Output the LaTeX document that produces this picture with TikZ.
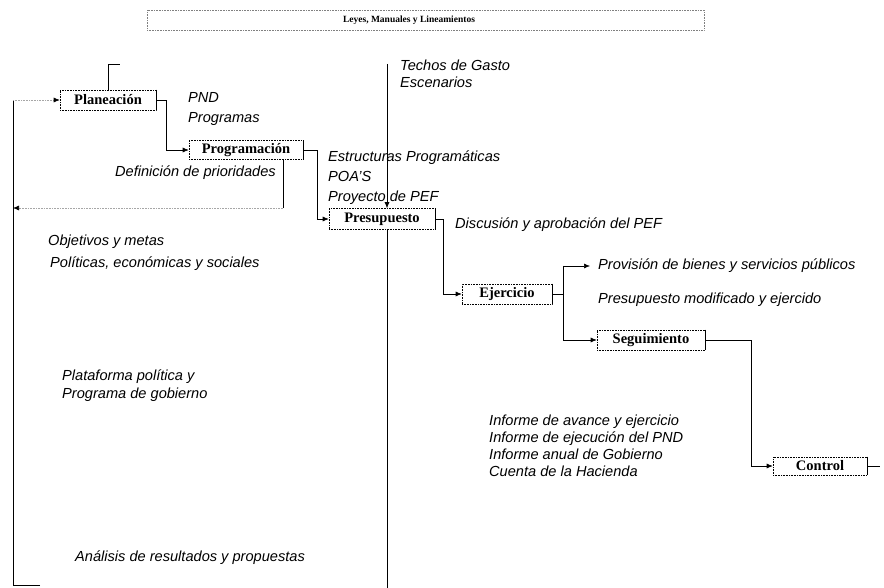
\documentclass[tikz,border=0pt]{standalone}
\usepackage{fontspec}
\setmainfont{Liberation Serif}
\setsansfont{Liberation Sans}
\usetikzlibrary{arrows.meta}

\begin{document}
\begin{tikzpicture}[x=1pt, y=-1pt,
    etapa/.style={draw, densely dotted, line width=0.6pt, minimum height=20pt, inner sep=1pt, font=\bfseries\fontsize{14.5}{16}\selectfont},
    texto/.style={font=\sffamily\itshape\fontsize{14.6}{17}\selectfont, align=left, anchor=base west, inner sep=0pt},
    linea/.style={line width=0.6pt},
    tenue/.style={line width=0.6pt, gray!70, densely dotted},
    flecha/.style={-{Latex[length=6pt,width=5pt,color=black]}}
]
\useasboundingbox (0,0) rectangle (884,588);

% Marco normativo
\node[draw, densely dotted, gray, line width=0.6pt, minimum width=557pt, minimum height=20pt] (leyes) at (425.5,20) {};
\node[font=\bfseries\fontsize{9.5}{11}\selectfont] (leyestxt) at (409,20) {Leyes, Manuales y Lineamientos};

% Etapas del ciclo
\node[etapa, minimum width=96pt] (plan) at (108,100) {Planeación};
\node[etapa, minimum width=114pt, minimum height=19pt] (prog) at (246,150) {Programación};
\node[etapa, minimum width=106pt, minimum height=21pt] (pres) at (382,219) {Presupuesto};
\node[etapa, minimum width=90pt] (ejer) at (507,294) {Ejercicio};
\node[etapa, minimum width=108pt] (segu) at (651,340) {Seguimiento};
\node[etapa, minimum width=94pt, minimum height=18pt] (cont) at (820,466) {Control};
\foreach \n in {plan,prog,pres,ejer,segu,cont}
    \draw[linea] (\n.north east) -- (\n.south east);

% Textos
\node[texto] (techos) at (400,88) {Techos de Gasto\\Escenarios};
\node[texto] (pnd) at (188,123) {PND\\[3pt]Programas};
\node[texto, anchor=base east] (prior) at (276,177) {Definición de prioridades};
\node[texto] (estruc) at (328,202) {Estructuras Programáticas\\[3pt]POA'S\\[3pt]Proyecto de PEF};
\node[texto] (discu) at (455,229) {Discusión y aprobación del PEF};
\node[texto] (objet) at (48,268) {Objetivos y metas\\[5pt]\hspace{2pt}Políticas, económicas y sociales};
\node[texto] (prov) at (598,270) {Provisión de bienes y servicios públicos};
\node[texto] (modif) at (598,304) {Presupuesto modificado y ejercido};
\node[texto] (plata) at (62,398) {Plataforma política y\\[1pt]Programa de gobierno};
\node[texto] (infor) at (489,476) {Informe de avance y ejercicio\\Informe de ejecución del PND\\Informe anual de Gobierno\\Cuenta de la Hacienda};
\node[texto] (anali) at (75,561) {Análisis de resultados y propuestas};

% Puntos de quiebre
\coordinate (izqA) at (13,100);
\coordinate (izqB) at (13,585);
\coordinate (izqC) at (40,585);
\coordinate (techoA) at (120,64);
\coordinate (techoB) at (387,64);
\coordinate (fondo) at (387,588);
\coordinate (pp) at (166,100);
\coordinate (pr) at (317,150);
\coordinate (def) at (283,208);
\coordinate (izqD) at (13,208);
\coordinate (pe) at (443,219);
\coordinate (ej) at (563,294);
\coordinate (ejA) at (563,266);
\coordinate (ejB) at (563,340);
\coordinate (sc) at (751,340);
\coordinate (fin) at (880,466);

% Conectores
\draw[linea] (izqC) -- (izqB) -- (izqA);
\draw[tenue, flecha] (izqA) -- (plan.west);
\draw[linea] (plan.north) |- (techoA);
\draw[linea, flecha] (techoB) -- (techoB |- pres.north);
\draw[linea] (techoB |- pres.south) -- (fondo);
\draw[linea, flecha] (plan.east) -- (pp) |- (prog.west);
\draw[linea, flecha] (prog.east) -- (pr) |- (pres.west);
\draw[linea] (def |- prog.south) -- (def);
\draw[tenue, flecha] (def) -- (izqD);
\draw[linea, flecha] (pres.east) -- (pe) |- (ejer.west);
\draw[linea] (ejer.east) -- (ej);
\draw[linea] (ejA) -- (ejB);
\draw[linea, flecha] (ejA) -- ([xshift=-8pt]prov.west |- ejA);
\draw[linea, flecha] (ejB) -- (segu.west);
\draw[linea, flecha] (segu.east) -- (sc) |- (cont.west);
\draw[linea] (cont.east) -- (fin);
\end{tikzpicture}
\end{document}
